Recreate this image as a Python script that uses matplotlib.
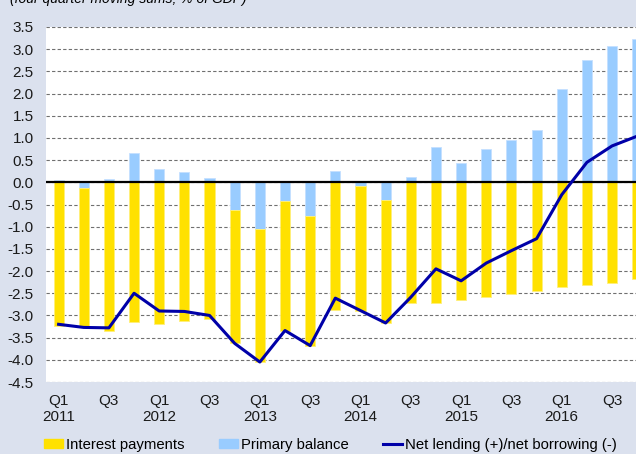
import matplotlib
matplotlib.use("Agg")
import matplotlib.pyplot as plt
import numpy as np

# Quarterly data, Q1 2011 - Q4 2016 (% of GDP, four quarter moving sums)
quarters = ["Q1\n2011", "Q2", "Q3", "Q4",
            "Q1\n2012", "Q2", "Q3", "Q4",
            "Q1\n2013", "Q2", "Q3", "Q4",
            "Q1\n2014", "Q2", "Q3", "Q4",
            "Q1\n2015", "Q2", "Q3", "Q4",
            "Q1\n2016", "Q2", "Q3", "Q4"]
interest_payments = [-3.24, -3.12, -3.36, -3.15,
                     -3.19, -3.13, -3.09, -3.01,
                     -2.99, -2.93, -2.92, -2.87,
                     -2.81, -2.79, -2.72, -2.73,
                     -2.66, -2.58, -2.51, -2.45,
                     -2.37, -2.32, -2.27, -2.19]
primary_balance = [0.05, -0.13, 0.08, 0.66,
                   0.30, 0.23, 0.10, -0.62,
                   -1.06, -0.41, -0.77, 0.26,
                   -0.09, -0.39, 0.13, 0.79,
                   0.44, 0.75, 0.96, 1.18,
                   2.10, 2.76, 3.08, 3.22]
net_lending = [-3.20, -3.27, -3.28, -2.50,
               -2.90, -2.91, -3.00, -3.63,
               -4.05, -3.34, -3.68, -2.61,
               -2.89, -3.17, -2.59, -1.95,
               -2.22, -1.82, -1.54, -1.27,
               -0.28, 0.45, 0.82, 1.04]

bg = "#dbe1ee"
yellow = "#ffe100"
light_blue = "#99ccff"
navy = "#0000a8"

plt.rcParams["font.family"] = ["Liberation Sans", "DejaVu Sans"]
plt.rcParams["font.size"] = 11

fig = plt.figure(figsize=(6.36, 4.54), dpi=100, facecolor=bg)
# plot area runs past the right edge of the figure
ax = fig.add_axes([46 / 636, 1 - 382 / 454, 603.8 / 636, 355 / 454])
ax.set_facecolor("white")

x = np.arange(len(quarters))
pb = np.array(primary_balance)
ip = np.array(interest_payments)

ax.bar(x, pb, width=0.4, color=light_blue, edgecolor="#c4e0ff",
       linewidth=0.6, zorder=2)
ax.bar(x, ip, width=0.4, bottom=np.minimum(pb, 0), color=yellow,
       edgecolor="#fff07a", linewidth=0.6, zorder=2)
ax.axhline(0, color="black", linewidth=1.6, zorder=3)
ax.plot(x, net_lending, color=navy, linewidth=2.2, zorder=4)

ax.set_xlim(-0.5, len(quarters) - 0.5)
ax.set_ylim(-4.5, 3.5)
ax.set_yticks(np.arange(-4.5, 3.51, 0.5))
ax.set_yticklabels([f"{v:.1f}" for v in np.arange(-4.5, 3.51, 0.5)])
ax.set_xticks(x[::2])
ax.set_xticklabels(quarters[::2], linespacing=1.2)
ax.tick_params(axis="y", length=0, pad=9, colors="#1a1a1a")
ax.tick_params(axis="x", length=0, pad=8.5, colors="#1a1a1a")

ax.yaxis.grid(True, color="#707070", linestyle=(0, (3, 2)), linewidth=0.8,
              zorder=1)
ax.set_axisbelow(True)
for s in ax.spines.values():
    s.set_visible(False)

fig.text(10 / 636, 1 - 2.5 / 454, "(four quarter moving sums; % of GDP)",
         style="italic", fontsize=10, va="baseline", ha="left")

# legend entries placed individually along the bottom
entries = [
    (44, plt.Rectangle((0, 0), 1, 1, color=yellow), "Interest payments"),
    (219, plt.Rectangle((0, 0), 1, 1, color=light_blue), "Primary balance"),
    (383, plt.Line2D([], [], color=navy, linewidth=2.2),
     "Net lending (+)/net borrowing (-)"),
]
for px, handle, label in entries:
    fig.legend([handle], [label], loc="center left",
               bbox_to_anchor=(px / 636, 1 - 445 / 454), frameon=False,
               fontsize=10.7, handlelength=1.3, handleheight=0.55,
               handletextpad=0.15, borderpad=0, borderaxespad=0)

fig.savefig("out.png", dpi=100, facecolor=bg)
